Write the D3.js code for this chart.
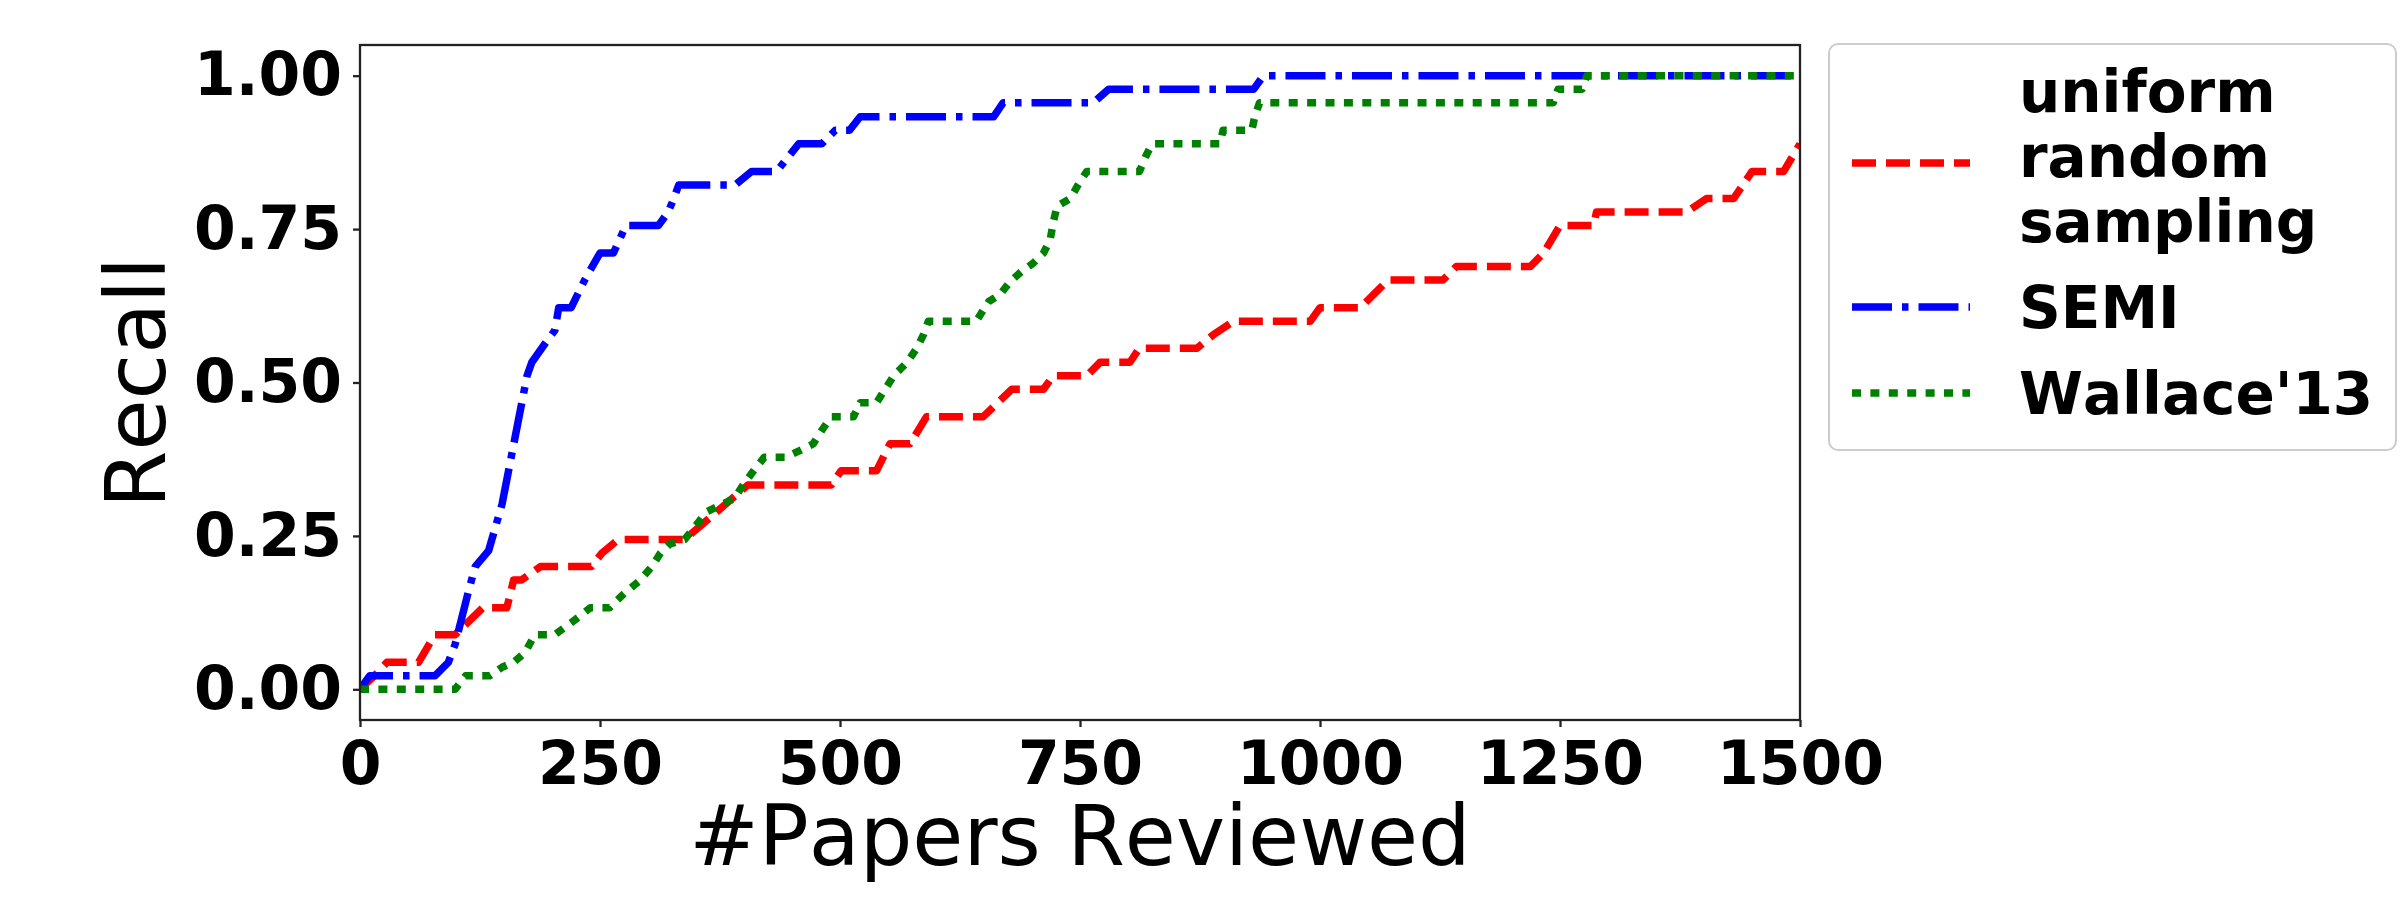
<!DOCTYPE html>
<html>
<head>
<meta charset="utf-8">
<script src="https://cdn.jsdelivr.net/npm/d3@7"></script>
<style>
  body { margin: 0; background: #fff; }
  svg { display: block; font-family: "DejaVu Sans", sans-serif; font-kerning: none; }
</style>
</head>
<body>
<div id="chart"></div>
<script>
var seriesNames = ["uniform random sampling", "SEMI", "Wallace'13"];
var seriesColors = ["#ff0000", "#0000ff", "#008000"];
var seriesDashes = ["24,10", "40,10,6.5,10", "9,9.4"];
var xTicks = [0, 250, 500, 750, 1000, 1250, 1500];
var yTicks = [0, 0.25, 0.5, 0.75, 1];

// recall curves: papers reviewed -> recall
var randomPapers = [0, 15, 28, 61, 78, 99, 128, 153, 160, 168, 188, 241, 252, 269, 338, 404, 491, 501, 538, 552, 573, 590, 649, 679, 712, 722, 757, 771, 802, 812, 872, 889, 910, 990, 1000, 1042, 1071, 1128, 1142, 1219, 1233, 1250, 1285, 1288, 1382, 1403, 1431, 1450, 1483, 1500];
var randomRecall = [0, 0.022, 0.044, 0.044, 0.089, 0.089, 0.133, 0.133, 0.178, 0.178, 0.2, 0.2, 0.222, 0.244, 0.244, 0.333, 0.333, 0.356, 0.356, 0.4, 0.4, 0.444, 0.444, 0.489, 0.489, 0.511, 0.511, 0.533, 0.533, 0.556, 0.556, 0.578, 0.6, 0.6, 0.622, 0.622, 0.667, 0.667, 0.689, 0.689, 0.711, 0.756, 0.756, 0.778, 0.778, 0.8, 0.8, 0.844, 0.844, 0.889];

var semiPapers = [0, 10, 78, 92, 99, 113, 120, 134, 148, 174, 179, 193, 203, 207, 220, 234, 250, 264, 277, 311, 321, 327, 332, 391, 408, 434, 457, 481, 495, 510, 521, 660, 670, 764, 780, 931, 941, 1500];
var semiRecall = [0, 0.022, 0.022, 0.044, 0.073, 0.16, 0.2, 0.226, 0.302, 0.511, 0.533, 0.564, 0.585, 0.622, 0.622, 0.667, 0.711, 0.711, 0.756, 0.756, 0.778, 0.8, 0.822, 0.822, 0.844, 0.844, 0.889, 0.889, 0.911, 0.911, 0.933, 0.933, 0.956, 0.956, 0.978, 0.978, 1, 1];

var wallacePapers = [0, 99, 110, 135, 148, 160, 172, 182, 203, 222, 240, 260, 275, 292, 304, 313, 323, 338, 350, 361, 375, 390, 399, 410, 421, 443, 458, 472, 481, 491, 514, 521, 538, 547, 556, 570, 580, 587, 592, 642, 646, 655, 667, 677, 689, 701, 712, 719, 722, 726, 740, 748, 757, 812, 818, 825, 896, 899, 929, 932, 937, 1243, 1248, 1273, 1278, 1500];
var wallaceRecall = [0, 0, 0.022, 0.022, 0.036, 0.044, 0.06, 0.089, 0.089, 0.111, 0.133, 0.133, 0.156, 0.178, 0.2, 0.222, 0.237, 0.244, 0.267, 0.289, 0.3, 0.311, 0.333, 0.356, 0.378, 0.378, 0.389, 0.4, 0.422, 0.444, 0.444, 0.467, 0.467, 0.489, 0.511, 0.533, 0.556, 0.578, 0.6, 0.6, 0.61, 0.632, 0.644, 0.664, 0.681, 0.694, 0.711, 0.733, 0.76, 0.787, 0.8, 0.822, 0.844, 0.844, 0.867, 0.889, 0.889, 0.911, 0.911, 0.933, 0.956, 0.956, 0.978, 0.978, 1, 1];

var seriesPapers = [randomPapers, semiPapers, wallacePapers];
var seriesRecall = [randomRecall, semiRecall, wallaceRecall];

var W = 2400, H = 900;
var margin = {top: 45, right: 600, bottom: 180, left: 360},
    width = W - margin.left - margin.right,
    height = H - margin.top - margin.bottom;

var svg = d3.select("#chart")
    .append("svg")
    .attr("width", W)
    .attr("height", H);

var g = svg.append("g")
    .attr("transform", "translate(" + margin.left + "," + margin.top + ")");

var x = d3.scaleLinear().domain([0, 1500]).range([0, width]);
var y = d3.scaleLinear().domain([-0.05, 1.05]).range([height, 0]);

g.append("clipPath").attr("id", "plotclip")
    .append("rect").attr("width", width).attr("height", height);

var line = d3.line()
    .x(function(d) { return x(d[0]); })
    .y(function(d) { return y(d[1]); });

seriesNames.forEach(function(name, i) {
    var pts = seriesPapers[i].map(function(p, j) { return [p, seriesRecall[i][j]]; });
    g.append("path")
        .datum(pts)
        .attr("clip-path", "url(#plotclip)")
        .attr("fill", "none")
        .attr("stroke", seriesColors[i])
        .attr("stroke-width", 7.5)
        .attr("stroke-linejoin", "round")
        .attr("stroke-dasharray", seriesDashes[i])
        .attr("d", line);
});

// axes
var xAxis = g.append("g")
    .attr("transform", "translate(0," + height + ")")
    .call(d3.axisBottom(x).tickValues(xTicks).tickFormat(d3.format("d"))
        .tickSize(7).tickPadding(14).tickSizeOuter(0));
var yAxis = g.append("g")
    .call(d3.axisLeft(y).tickValues(yTicks).tickFormat(d3.format(".2f"))
        .tickSize(7).tickPadding(11).tickSizeOuter(0));

[xAxis, yAxis].forEach(function(a) {
    a.select(".domain").remove();
    a.selectAll("line").attr("stroke", "#222").attr("stroke-width", 2.3);
    a.selectAll("text")
        .attr("fill", "#000")
        .style("font-family", "DejaVu Sans")
        .style("font-size", "60px")
        .style("font-weight", "bold");
});

g.append("rect")
    .attr("width", width)
    .attr("height", height)
    .attr("fill", "none")
    .attr("stroke", "#222")
    .attr("stroke-width", 2.3);

g.append("text")
    .attr("x", width / 2)
    .attr("y", height + 145)
    .attr("text-anchor", "middle")
    .style("font-size", "83px")
    .text("#Papers Reviewed");

g.append("text")
    .attr("transform", "rotate(-90)")
    .attr("x", -height / 2)
    .attr("y", -195)
    .attr("text-anchor", "middle")
    .style("font-size", "83px")
    .text("Recall");

// legend
var legend = svg.append("g");
legend.append("rect")
    .attr("x", 1829).attr("y", 44)
    .attr("width", 567).attr("height", 406)
    .attr("rx", 9)
    .attr("fill", "#fff")
    .attr("stroke", "#cccccc")
    .attr("stroke-width", 2);

var fs = 58, lineH = 65, entryGap = 86;
var baseline = 112;
seriesNames.forEach(function(name, i) {
    var lines = name.length > 12 ? name.split(" ") : [name];
    var t = legend.append("text")
        .attr("x", 2019)
        .style("font-size", fs + "px")
        .style("font-weight", "bold");
    lines.forEach(function(l, j) {
        t.append("tspan").attr("x", 2019).attr("y", baseline + j * lineH).text(l);
    });
    var last = baseline + (lines.length - 1) * lineH;
    var hy = (baseline + last) / 2 - 0.36 * fs + (lines.length > 1 ? 7 : 0);
    legend.append("line")
        .attr("x1", 1852).attr("x2", 1970)
        .attr("y1", hy).attr("y2", hy)
        .attr("stroke", seriesColors[i])
        .attr("stroke-width", 7.5)
        .attr("stroke-dasharray", seriesDashes[i]);
    baseline = last + entryGap;
});
</script>
</body>
</html>
